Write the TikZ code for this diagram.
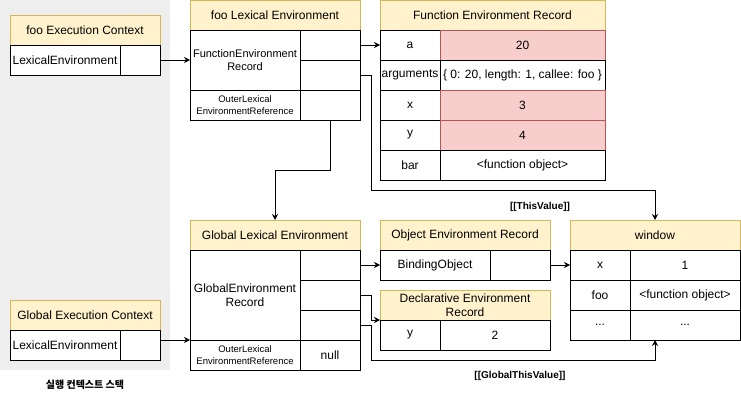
\documentclass[tikz,border=0pt]{standalone}
\usepackage{fontspec}
\setmainfont{Liberation Sans}
\newfontfamily\kofont{Noto Sans CJK KR}
\usetikzlibrary{arrows.meta}
\definecolor{hdrfill}{HTML}{FFF2CC}
\definecolor{hdrline}{HTML}{D6B656}
\definecolor{valfill}{HTML}{F8CECC}
\definecolor{valline}{HTML}{B85450}
\definecolor{stackbg}{HTML}{EEEEEE}
\tikzset{
  cell/.style={draw, fill=white, line width=0.8pt, inner sep=0pt, outer sep=0pt, anchor=north west,
    align=center, minimum height=30pt, font=\fontsize{12}{14}\selectfont},
  hdr/.style={cell, fill=hdrfill, draw=hdrline},
  val/.style={cell, fill=valfill, draw=valline},
  small/.style={font=\fontsize{11}{13}\selectfont},
  tiny/.style={font=\fontsize{9.5}{11.5}\selectfont},
  arr/.style={-{Stealth[length=6pt,width=6pt]}, line width=0.8pt},
  tag/.style={font=\bfseries\fontsize{10}{12}\selectfont}
}
\begin{document}
\begin{tikzpicture}[x=1pt,y=-1pt]
    \useasboundingbox (0,0) rectangle (741,401);
    \fill [stackbg] (0,0) rectangle (170,370);
      \node[hdr, minimum width=150pt] (fooec) at (10,15) {foo Execution Context};
      \node[cell, minimum width=110pt] (fooec-le) at (10,45) {LexicalEnvironment};
      \node[cell, minimum width=40pt] (fooec-ptr) at (120,45) {};
      \node[hdr, minimum width=150pt] (gec) at (10,300) {Global Execution Context};
      \node[cell, minimum width=110pt] (gec-le) at (10,330) {LexicalEnvironment};
      \node[cell, minimum width=40pt] (gec-ptr) at (120,330) {};
      \node[tag] (stacklbl) at (85,385) {\kofont 실행 컨텍스트 스택};

      \node[hdr, minimum width=170pt] (foole) at (190,0) {foo Lexical Environment};
      \node[cell, small, minimum width=110pt, minimum height=60pt] (foole-rec) at (190,30) {FunctionEnvironment\\Record};
      \node[cell, minimum width=60pt] (foole-p1) at (300,30) {};
      \node[cell, minimum width=60pt] (foole-p2) at (300,60) {};
      \node[cell, tiny, minimum width=110pt] (foole-outer) at (190,90) {OuterLexical\\EnvironmentReference};
      \node[cell, minimum width=60pt] (foole-optr) at (300,90) {};

      \node[hdr, minimum width=225pt] (fer) at (380,0) {Function Environment Record};
      \foreach \k/\v/\s [count=\i] in {a/20/val, arguments/{\{ 0: 20, length: 1, callee: foo \}}/cell, x/3/val, y/4/val, bar/<function object>/cell}
      {
      \node[cell, minimum width=60pt] (fer-k\i) at (380,30*\i) {\k};
      \node[style=\s, minimum width=165pt] (fer-v\i) at (440,30*\i) {\v};
      }

      \node[hdr, minimum width=170pt] (gle) at (190,220) {Global Lexical Environment};
      \node[cell, minimum width=110pt, minimum height=90pt] (gle-rec) at (190,250) {GlobalEnvironment\\Record};
      \foreach \i in {1,2,3}
      \node[cell, minimum width=60pt] (gle-p\i) at (300,220+30*\i) {};
      \node[cell, tiny, minimum width=110pt] (gle-outer) at (190,340) {OuterLexical\\EnvironmentReference};
      \node[cell, minimum width=60pt] (gle-null) at (300,340) {null};

      \node[hdr, minimum width=170pt] (oer) at (380,220) {Object Environment Record};
      \node[cell, minimum width=110pt] (oer-bind) at (380,250) {BindingObject};
      \node[cell, minimum width=60pt] (oer-ptr) at (490,250) {};

      \node[hdr, minimum width=170pt] (der) at (380,290) {Declarative Environment\\Record};
      \node[cell, minimum width=60pt] (der-k) at (380,320) {y};
      \node[cell, minimum width=110pt] (der-v) at (440,320) {2};

      \node[hdr, minimum width=170pt] (win) at (570,220) {window};
      \foreach \k/\v [count=\i] in {x/1, foo/<function object>, {...}/{...}}
      {
      \node[cell, minimum width=60pt] (win-k\i) at (570,220+30*\i) {\k};
      \node[cell, minimum width=110pt] (win-v\i) at (630,220+30*\i) {\v};
      }

      \coordinate (thisbend) at (371,190);
      \coordinate (outerbend) at (275,170);
      \coordinate (declbend) at (371,320);
      \coordinate (gthisbend) at (371,360);
      \draw [arr] (fooec-ptr.east) to (foole-rec.west);
      \draw [arr] (foole-p1.east) to (fer-k1.west);
      \draw [arr] (foole-p2.east) -| (thisbend) -| (win.north);
      \draw [arr] (foole-optr.south) |- (outerbend) to (gle.north);
      \draw [arr] (gec-ptr.east |- gle-rec.south west) to (gle-rec.south west);
      \draw [arr] (gle-p1.east) to (oer-bind.west);
      \draw [arr] (gle-p2.east) -| (declbend) to (der.south west);
      \draw [arr] (gle-p3.east) -| (gthisbend) -| (win.north |- win-v3.south);
      \draw [arr] (oer-ptr.east) to (win-k1.west);
      \node[tag] (thislbl) at (540,207) {[[ThisValue]]};
      \node[tag] (gthislbl) at (520,376) {[[GlobalThisValue]]};
  \end{tikzpicture}
\end{document}
